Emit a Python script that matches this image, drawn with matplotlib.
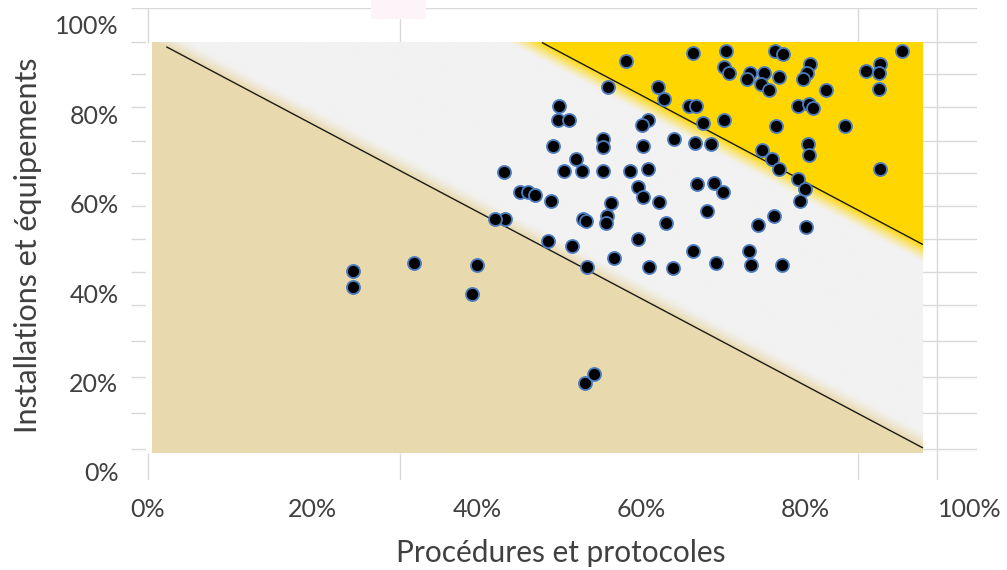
import numpy as np
import matplotlib.pyplot as plt
from matplotlib.patches import Rectangle
from matplotlib.ticker import FuncFormatter

plt.rcParams['font.family'] = ['Lato', 'DejaVu Sans']

# scores (%)
procedures = [58.2, 66.3, 70.3, 76.3, 77.3, 91.7, 70.1, 70.7, 73.2, 72.9,
              74.9, 76.8, 74.6, 75.5, 80.5, 80.2, 79.7, 82.5, 87.3, 89.1,
              88.9, 88.9, 56.0, 62.0, 62.8, 65.8, 66.7, 50.0, 49.9, 51.2,
              60.8, 60.1, 67.5, 70.1, 79.1, 80.4, 80.9, 76.4, 84.8, 55.4,
              55.4, 49.3, 60.2, 64.0, 66.5, 68.5, 74.7, 75.9, 76.8, 80.3,
              80.4, 89.1, 52.1, 50.6, 52.8, 55.4, 58.6, 60.8, 43.3, 79.1,
              79.9, 79.3, 66.8, 68.9, 70.0, 59.6, 60.2, 62.2, 45.3, 46.2,
              47.1, 49.0, 56.3, 52.9, 53.3, 55.8, 55.7, 68.0, 63.0, 43.4,
              42.2, 76.2, 74.2, 80.0, 48.7, 51.6, 59.6, 66.3, 73.1, 56.7,
              53.4, 60.9, 63.9, 69.1, 73.4, 77.1, 24.9, 24.9, 32.4, 40.0,
              39.4, 53.2, 54.3]
equipements = [91.9, 93.7, 94.2, 94.2, 93.5, 94.2, 90.6, 89.3, 89.3, 87.9,
               89.3, 88.4, 86.8, 85.5, 91.3, 89.3, 87.9, 85.5, 89.7, 91.3,
               89.3, 85.7, 86.1, 86.1, 83.4, 81.9, 81.9, 81.9, 78.7, 78.7,
               78.7, 77.6, 78.1, 78.7, 81.9, 82.3, 81.4, 77.4, 77.4, 74.5,
               72.7, 72.9, 72.9, 74.5, 73.6, 73.4, 72.0, 70.0, 67.8, 73.4,
               70.9, 67.8, 70.0, 67.3, 67.3, 67.3, 67.3, 67.8, 67.1, 65.5,
               63.3, 60.6, 64.4, 64.7, 62.6, 63.8, 61.5, 60.4, 62.6, 62.6,
               62.0, 60.6, 60.2, 56.6, 56.2, 57.3, 55.7, 58.4, 55.7, 56.6,
               56.6, 57.3, 55.3, 54.8, 51.7, 50.6, 52.1, 49.4, 49.4, 47.9,
               45.9, 45.9, 45.6, 46.8, 46.3, 46.3, 45.0, 41.4, 46.8, 46.3,
               39.8, 19.9, 21.9]

# zone boundaries: y = intercept + slope * x, drawn from x_start
low_intercept, high_intercept, slope = 97.3, 142.8, -0.975
low_start = 2.3
# picture of the zones
img_x0, img_x1, img_y0, img_y1 = 0.5, 94.2, 4.25, 96.0

tick_values = [0, 20, 40, 60, 80, 100]
grid_rows = [103.8, 96.2, 89.0, 81.7, 74.0, 66.9, 59.5, 52.1, 44.7,
             37.4, 29.3, 21.3, 13.2, 5.1]
grid_cols = [0, 30.7, 86.4]
right_col = 96.0

tan = np.array([233, 218, 174]) / 255
grey = np.array([242, 242, 242]) / 255
gold = np.array([255, 214, 0]) / 255

fig = plt.figure(figsize=(10.07, 5.70), dpi=100)
ax = fig.add_axes([131 / 1007, 90 / 570, 846 / 1007, 472 / 570])
xmin, xmax, ymin, ymax = -2.07, 100.85, -1.79, 103.8
ax.set_xlim(xmin, xmax)
ax.set_ylim(ymin, ymax)
for s in ax.spines.values():
    s.set_visible(False)

# excel-ish gridlines behind everything
ax.hlines(grid_rows, xmin, xmax, color='#D9D9D9', lw=1, zorder=0.5)
ax.vlines([right_col], ymin, ymax, color='#D9D9D9', lw=1, zorder=0.5)
ax.add_patch(Rectangle((-0.2, ymin), img_x1 + 0.2, 103.1 - ymin,
                       facecolor='white', edgecolor='none', zorder=1))
ax.vlines(grid_cols, img_y1, ymax, color='#D9D9D9', lw=1, zorder=1.5)
ax.vlines(grid_cols, ymin, img_y0, color='#D9D9D9', lw=1, zorder=1.5)

# zone background with soft edges
gx = np.linspace(img_x0, img_x1, 900)
gy = np.linspace(img_y1, img_y0, 480)
X, Y = np.meshgrid(gx, gy)
t_low = Y - (low_intercept + slope * X)
t_high = Y - (high_intercept + slope * X)
w_low = np.clip(1 - t_low / 3.6, 0, 1) ** 1.3
w_high = np.clip(1 + t_high / 4.2, 0, 1) ** 1.3
w_grey = np.clip(1 - w_low - w_high, 0, 1)
rgb = (w_low[..., None] * tan + w_high[..., None] * gold
       + w_grey[..., None] * grey)
ax.imshow(rgb, extent=(img_x0, img_x1, img_y0, img_y1), aspect='auto',
          interpolation='bilinear', zorder=2)

for icpt, x_start in ((low_intercept, low_start),
                      (high_intercept, (img_y1 - high_intercept) / slope)):
    xs = np.array([x_start, img_x1])
    ax.plot(xs, icpt + slope * xs, color='#1a1a1a', lw=1.0, zorder=3)

ax.scatter(procedures, equipements, s=88, c='black', edgecolors='#4A7CC0',
           linewidths=1.3, zorder=4)

pct = FuncFormatter(lambda v, p: f'{v:.0f}%')
ax.set_xticks(tick_values)
ax.set_yticks(tick_values)
ax.xaxis.set_major_formatter(pct)
ax.yaxis.set_major_formatter(pct)
ax.tick_params(axis='both', length=0, labelsize=18, colors='#404040')
ax.tick_params(axis='x', pad=13)
ax.tick_params(axis='y', pad=9)

ax.set_xlabel('Procédures et protocoles', fontsize=21.5, color='#404040')
ax.set_ylabel('Installations et équipements', fontsize=22, color='#404040')
ax.xaxis.set_label_coords(0.508, -0.155)
ax.yaxis.set_label_coords(-0.122, 0.497)
ax.xaxis.label.set_va('center')
ax.yaxis.label.set_va('center')

fig.patches.append(Rectangle((371 / 1007, 1 - 19 / 570), 55 / 1007, 19 / 570,
                             transform=fig.transFigure, facecolor='#FDF4F9',
                             edgecolor='none'))

fig.savefig('out.png', dpi=100)
